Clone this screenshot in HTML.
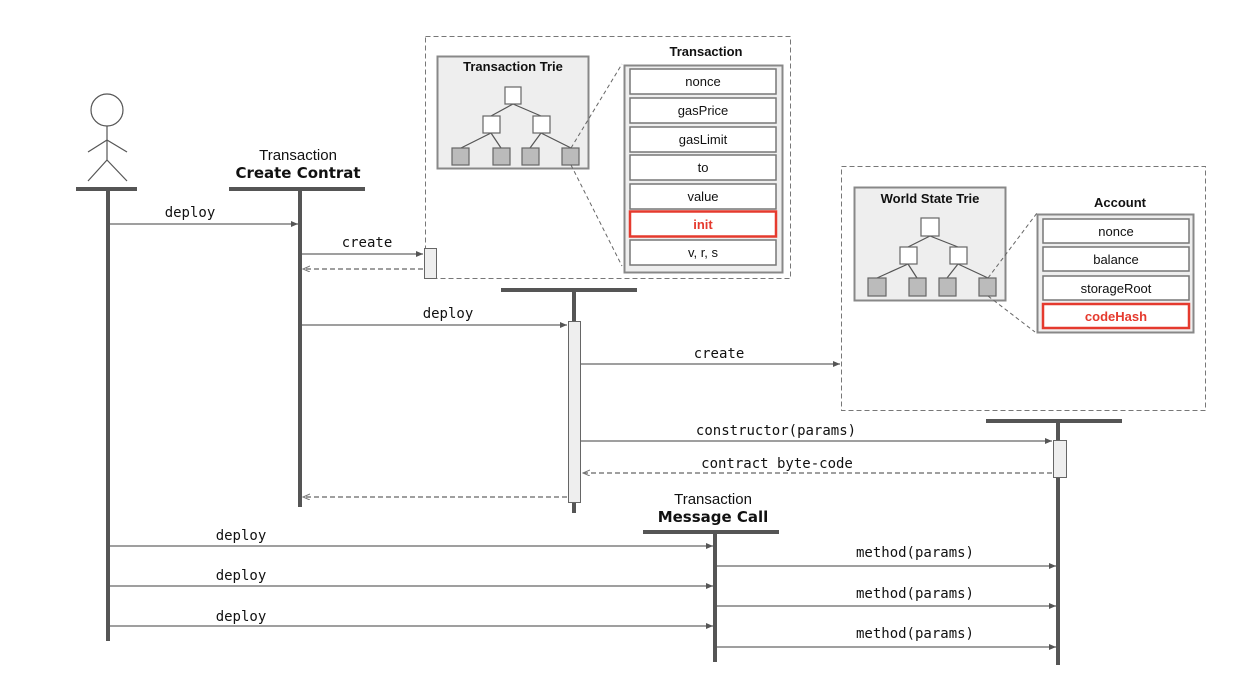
<!DOCTYPE html>
<html><head><meta charset="utf-8"><style>
html,body{margin:0;padding:0;background:#fff;}
svg{display:block;}
.m{font-family:"DejaVu Sans Mono","Liberation Mono",monospace;font-size:14px;fill:#111;text-anchor:middle;}
.s{font-family:"Liberation Sans",sans-serif;font-size:13px;fill:#111;text-anchor:middle;}
.b{font-family:"Liberation Sans",sans-serif;font-size:13px;font-weight:bold;fill:#111;text-anchor:middle;}
.h{font-family:"Liberation Sans",sans-serif;font-size:15px;fill:#111;text-anchor:middle;}
.hb{font-family:"DejaVu Sans","Liberation Sans",sans-serif;font-size:15px;font-weight:bold;fill:#111;text-anchor:middle;}
</style></head><body>
<svg width="1258" height="676" viewBox="0 0 1258 676" xmlns="http://www.w3.org/2000/svg">
<defs>
<marker id="a" markerWidth="8" markerHeight="8" refX="7" refY="3" orient="auto" markerUnits="userSpaceOnUse"><path d="M0,0 L7,3 L0,6 z" fill="#555"/></marker>
<marker id="o" markerWidth="8" markerHeight="8" refX="7" refY="3" orient="auto" markerUnits="userSpaceOnUse"><path d="M0,0 L7,3 L0,6" fill="none" stroke="#777" stroke-width="1"/></marker>
</defs>

<rect x="425.5" y="36.5" width="365" height="242" fill="none" stroke="#777" stroke-dasharray="5,3"/>
<rect x="841.5" y="166.5" width="364" height="244" fill="none" stroke="#777" stroke-dasharray="5,3"/>

<rect x="437.5" y="56.5" width="151" height="112" fill="#eee" stroke="#888" stroke-width="2"/>
<text class="b" x="513" y="71">Transaction Trie</text>
<g stroke="#555" stroke-width="1.2">
<line x1="513" y1="104" x2="491" y2="116"/><line x1="513" y1="104" x2="541" y2="116"/>
<line x1="491" y1="133" x2="461" y2="148"/><line x1="491" y1="133" x2="501" y2="148"/>
<line x1="541" y1="133" x2="530" y2="148"/><line x1="541" y1="133" x2="571" y2="148"/>
</g>
<g stroke="#666" stroke-width="1.2">
<rect x="505" y="87" width="16" height="17" fill="#fff"/>
<rect x="483" y="116" width="17" height="17" fill="#fff"/>
<rect x="533" y="116" width="17" height="17" fill="#fff"/>
<rect x="452" y="148" width="17" height="17" fill="#bbb"/>
<rect x="493" y="148" width="17" height="17" fill="#bbb"/>
<rect x="522" y="148" width="17" height="17" fill="#bbb"/>
<rect x="562" y="148" width="17" height="17" fill="#bbb"/>
</g>
<line x1="571" y1="148" x2="622" y2="64" stroke="#666" stroke-dasharray="4,3"/>
<line x1="571" y1="165" x2="622" y2="266" stroke="#666" stroke-dasharray="4,3"/>

<text class="b" x="706" y="56">Transaction</text>
<rect x="624.5" y="65.5" width="158" height="207" fill="#eee" stroke="#888" stroke-width="2"/>
<g stroke="#777" stroke-width="1.5" fill="#fff">
<rect x="630" y="69" width="146" height="25"/>
<rect x="630" y="98" width="146" height="25"/>
<rect x="630" y="127" width="146" height="25"/>
<rect x="630" y="155" width="146" height="25"/>
<rect x="630" y="184" width="146" height="25"/>
<rect x="630" y="240" width="146" height="25"/>
</g>
<rect x="630" y="211.5" width="146" height="25" fill="#fff" stroke="#e53a2e" stroke-width="2.5"/>
<text class="s" x="703" y="86">nonce</text>
<text class="s" x="703" y="115">gasPrice</text>
<text class="s" x="703" y="144">gasLimit</text>
<text class="s" x="703" y="172">to</text>
<text class="s" x="703" y="201">value</text>
<text class="b" x="703" y="229" style="fill:#e53a2e">init</text>
<text class="s" x="703" y="257">v, r, s</text>

<rect x="854.5" y="187.5" width="151" height="113" fill="#eee" stroke="#888" stroke-width="2"/>
<text class="b" x="930" y="203">World State Trie</text>
<g stroke="#555" stroke-width="1.2">
<line x1="930" y1="236" x2="908" y2="247"/><line x1="930" y1="236" x2="958" y2="247"/>
<line x1="908" y1="264" x2="877" y2="278"/><line x1="908" y1="264" x2="917" y2="278"/>
<line x1="958" y1="264" x2="947" y2="278"/><line x1="958" y1="264" x2="988" y2="278"/>
</g>
<g stroke="#666" stroke-width="1.2">
<rect x="921" y="218" width="18" height="18" fill="#fff"/>
<rect x="900" y="247" width="17" height="17" fill="#fff"/>
<rect x="950" y="247" width="17" height="17" fill="#fff"/>
<rect x="868" y="278" width="18" height="18" fill="#bbb"/>
<rect x="909" y="278" width="17" height="18" fill="#bbb"/>
<rect x="939" y="278" width="17" height="18" fill="#bbb"/>
<rect x="979" y="278" width="17" height="18" fill="#bbb"/>
</g>
<line x1="988" y1="278" x2="1037" y2="213" stroke="#666" stroke-dasharray="4,3"/>
<line x1="988" y1="296" x2="1035" y2="332" stroke="#666" stroke-dasharray="4,3"/>

<text class="b" x="1120" y="207">Account</text>
<rect x="1037.5" y="214.5" width="156" height="118" fill="#eee" stroke="#888" stroke-width="2"/>
<g stroke="#777" stroke-width="1.5" fill="#fff">
<rect x="1043" y="219" width="146" height="24"/>
<rect x="1043" y="247" width="146" height="24"/>
<rect x="1043" y="276" width="146" height="24"/>
</g>
<rect x="1043" y="304" width="146" height="24" fill="#fff" stroke="#e53a2e" stroke-width="2.5"/>
<text class="s" x="1116" y="236">nonce</text>
<text class="s" x="1116" y="264">balance</text>
<text class="s" x="1116" y="293">storageRoot</text>
<text class="b" x="1116" y="321" style="fill:#e53a2e">codeHash</text>

<g stroke="#555" stroke-width="1.2" fill="none">
<circle cx="107" cy="110" r="16" fill="#fff"/>
<line x1="107" y1="126" x2="107" y2="160"/>
<line x1="88" y1="152" x2="107" y2="140"/><line x1="127" y1="152" x2="107" y2="140"/>
<line x1="88" y1="181" x2="107" y2="160"/><line x1="127" y1="181" x2="107" y2="160"/>
</g>

<g stroke="#555">
<line x1="76" y1="189" x2="137" y2="189" stroke-width="4"/>
<line x1="108" y1="189" x2="108" y2="641" stroke-width="4"/>
<line x1="229" y1="189" x2="365" y2="189" stroke-width="4"/>
<line x1="300" y1="189" x2="300" y2="507" stroke-width="4"/>
<line x1="501" y1="290" x2="637" y2="290" stroke-width="4"/>
<line x1="574" y1="290" x2="574" y2="513" stroke-width="4"/>
<line x1="986" y1="421" x2="1122" y2="421" stroke-width="4"/>
<line x1="1058" y1="421" x2="1058" y2="665" stroke-width="4"/>
<line x1="643" y1="532" x2="779" y2="532" stroke-width="4"/>
<line x1="715" y1="532" x2="715" y2="662" stroke-width="4"/>
</g>
<text class="h" x="298" y="160">Transaction</text>
<text class="hb" x="298" y="178">Create Contrat</text>
<text class="h" x="713" y="504">Transaction</text>
<text class="hb" x="713" y="522">Message Call</text>

<rect x="424.5" y="248.5" width="12" height="30" fill="#eee" stroke="#666"/>
<rect x="568.5" y="321.5" width="12" height="181" fill="#eee" stroke="#666"/>
<rect x="1053.5" y="440.5" width="13" height="37" fill="#eee" stroke="#666"/>

<g stroke="#666" stroke-width="1.3" fill="none">
<line x1="110" y1="224" x2="298" y2="224" marker-end="url(#a)"/>
<line x1="302" y1="254" x2="423" y2="254" marker-end="url(#a)"/>
<line x1="423" y1="269" x2="303" y2="269" stroke-dasharray="5,3" marker-end="url(#o)"/>
<line x1="302" y1="325" x2="567" y2="325" marker-end="url(#a)"/>
<line x1="581" y1="364" x2="840" y2="364" marker-end="url(#a)"/>
<line x1="581" y1="441" x2="1052" y2="441" marker-end="url(#a)"/>
<line x1="1052" y1="473" x2="583" y2="473" stroke-dasharray="5,3" marker-end="url(#o)"/>
<line x1="567" y1="497" x2="303" y2="497" stroke-dasharray="5,3" marker-end="url(#o)"/>
<line x1="110" y1="546" x2="713" y2="546" marker-end="url(#a)"/>
<line x1="110" y1="586" x2="713" y2="586" marker-end="url(#a)"/>
<line x1="110" y1="626" x2="713" y2="626" marker-end="url(#a)"/>
<line x1="717" y1="566" x2="1056" y2="566" marker-end="url(#a)"/>
<line x1="717" y1="606" x2="1056" y2="606" marker-end="url(#a)"/>
<line x1="717" y1="647" x2="1056" y2="647" marker-end="url(#a)"/>
</g>
<text class="m" x="190" y="217">deploy</text>
<text class="m" x="367" y="247">create</text>
<text class="m" x="448" y="318">deploy</text>
<text class="m" x="719" y="358">create</text>
<text class="m" x="776" y="435">constructor(params)</text>
<text class="m" x="777" y="468">contract byte-code</text>
<text class="m" x="241" y="540">deploy</text>
<text class="m" x="241" y="580">deploy</text>
<text class="m" x="241" y="621">deploy</text>
<text class="m" x="915" y="557">method(params)</text>
<text class="m" x="915" y="598">method(params)</text>
<text class="m" x="915" y="638">method(params)</text>
</svg>
</body></html>
